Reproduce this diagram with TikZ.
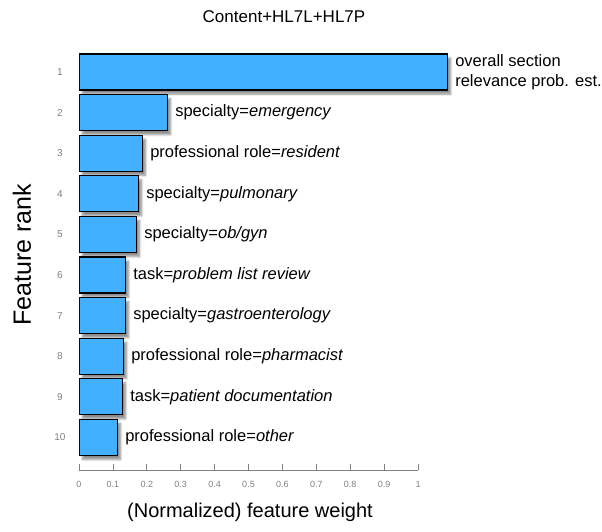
\documentclass[tikz,border=0pt]{standalone}
\usepackage{fontspec}
\setmainfont{Liberation Sans}
\usepackage{xcolor}
\usepackage{tikz}
\usetikzlibrary{positioning, shadows.blur}

\definecolor{barblue}{RGB}{66,176,255}
\definecolor{axisgray}{RGB}{128,128,128}

\tikzset{
    bar/.style={draw=black, line width=1.1pt, fill=barblue, minimum height=36pt,
        inner sep=0pt, anchor=west,
        blur shadow={shadow xshift=3pt, shadow yshift=-4pt, shadow opacity=45, shadow blur steps=6}},
    barlabel/.style={anchor=west, inner sep=0pt, font=\fontsize{16.5}{20.5}\selectfont},
    ranklabel/.style={text=axisgray, font=\fontsize{10}{11}\selectfont},
    ticklabel/.style={text=axisgray, font=\fontsize{9}{10}\selectfont},
}

\begin{document}
\begin{tikzpicture}[x=1pt, y=-1pt]
    \useasboundingbox (0, 0) rectangle (602, 531);

    \node[font=\fontsize{17}{19}\selectfont] (title) at (284, 17) {Content+HL7L+HL7P};

    % bars: rank / width / label
    \foreach \r/\w/\txt in {
        1/368/{overall section\\relevance prob. est.},
        2/88/{specialty=\textit{emergency}},
        3/63/{professional role=\textit{resident}},
        4/59/{specialty=\textit{pulmonary}},
        5/57/{specialty=\textit{ob/gyn}},
        6/46/{task=\textit{problem list review}},
        7/46/{specialty=\textit{gastroenterology}},
        8/44/{professional role=\textit{pharmacist}},
        9/43/{task=\textit{patient documentation}},
        10/38/{professional role=\textit{other}}} {
        \pgfmathsetmacro{\yy}{72 + (\r - 1) * 40.6}
        \node[bar, minimum width=\w pt] (bar\r) at (79, \yy) {};
        \node[barlabel, align=left, right=7pt of bar\r] (lab\r) {\txt};
        \node[ranklabel] (rank\r) at (60, \yy) {\r};
    }

    % x axis
    \coordinate (ax0) at (79, 470);
    \coordinate (ax1) at (418, 470);
    \draw[axisgray, line width=0.8pt] (ax0) -- (ax1);
    \foreach \t [count=\k from 0] in {0, 0.1, 0.2, 0.3, 0.4, 0.5, 0.6, 0.7, 0.8, 0.9, 1} {
        \draw[axisgray, line width=0.8pt] (79 + \k * 33.9, 470) -- (79 + \k * 33.9, 464);
        \node[ticklabel] (tick\k) at (79 + \k * 33.9, 484) {\t};
    }

    \node[font=\fontsize{20}{23}\selectfont] (xlab) at (250, 512) {(Normalized) feature weight};
    \node[font=\fontsize{25}{28}\selectfont, rotate=90] (ylab) at (22, 255) {Feature rank};
\end{tikzpicture}
\end{document}
